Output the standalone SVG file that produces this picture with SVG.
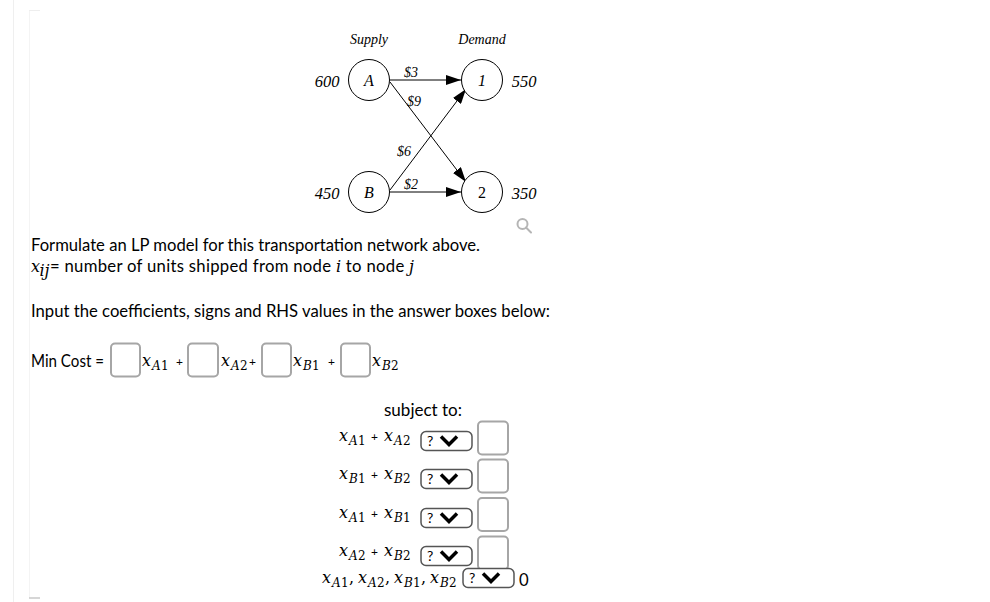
<svg xmlns="http://www.w3.org/2000/svg" width="990" height="602" viewBox="0 0 990 602">
<defs>
<marker id="arr" markerWidth="15" markerHeight="10" refX="15" refY="5" orient="auto" markerUnits="userSpaceOnUse">
<path d="M0,0 L15,5 L0,10 Z" fill="#000"/>
</marker>
<style>
.nd{fill:#fff;stroke:#000;stroke-width:1}
.tl{font-family:"Liberation Serif","Times New Roman",serif;font-style:italic;fill:#000}
.body{font-family:Lato,"Noto Sans",sans-serif;font-size:16.7px;fill:#000}
.m{font-family:"DejaVu Serif","Liberation Serif",serif;font-style:italic;font-size:16px;fill:#000}
.sb{font-size:12px}
.up{font-style:normal}
.pl{font-family:Lato,"Noto Sans",sans-serif;font-style:normal;font-size:12px;fill:#000}
.ab{fill:#fff;stroke:#a6a6a6;stroke-width:2}
.sel{fill:#fff;stroke:#555;stroke-width:1.5}
.q{font-family:Lato,"Noto Sans",sans-serif;font-size:14px;fill:#000}
.chev{fill:none;stroke:#000;stroke-width:3.5;stroke-linejoin:miter;stroke-linecap:butt}
.edge{stroke:#000;stroke-width:1;fill:none}
</style>
</defs>
<rect width="990" height="602" fill="#fff"/>
<g id="frame">
<line x1="13.5" y1="0" x2="13.5" y2="602" stroke="#efefef"/>
<line x1="29.5" y1="10" x2="29.5" y2="598" stroke="#f4f4f4"/>
<line x1="29" y1="10.5" x2="40" y2="10.5" stroke="#eeeeee"/>
<line x1="29" y1="598" x2="40" y2="598" stroke="#c8c8c8" stroke-width="1.5"/>
</g>
<g id="headers">
<text class="tl" x="369" y="44" font-size="14" text-anchor="middle">Supply</text>
<text class="tl" x="482" y="44" font-size="14" text-anchor="middle">Demand</text>
</g>
<g id="connectors">
<line class="edge" x1="390" y1="80" x2="461" y2="80" marker-end="url(#arr)"/>
<line class="edge" x1="390" y1="82" x2="466" y2="182" marker-end="url(#arr)"/>
<line class="edge" x1="390" y1="190" x2="466" y2="89" marker-end="url(#arr)"/>
<line class="edge" x1="390" y1="192" x2="461" y2="192" marker-end="url(#arr)"/>
<text class="tl" x="411" y="77" font-size="14" text-anchor="middle">$3</text>
<text class="tl" x="414" y="106" font-size="14" text-anchor="middle">$9</text>
<text class="tl" x="404" y="156" font-size="14" text-anchor="middle">$6</text>
<text class="tl" x="411" y="189" font-size="14" text-anchor="middle">$2</text>
</g>
<g id="node-A">
<circle class="nd" cx="369" cy="80" r="20.5"/>
<text class="tl" x="369" y="86" font-size="16" text-anchor="middle">A</text>
<text class="tl" x="327" y="87" font-size="16.5" text-anchor="middle">600</text>
</g>
<g id="node-B">
<circle class="nd" cx="369" cy="192" r="20.5"/>
<text class="tl" x="369" y="198" font-size="16" text-anchor="middle">B</text>
<text class="tl" x="327" y="199" font-size="16.5" text-anchor="middle">450</text>
</g>
<g id="node-1">
<circle class="nd" cx="482" cy="80" r="20.5"/>
<text class="tl" x="482" y="86" font-size="16" text-anchor="middle">1</text>
<text class="tl" x="524" y="87" font-size="16.5" text-anchor="middle">550</text>
</g>
<g id="node-2">
<circle class="nd" cx="482" cy="192" r="20.5"/>
<text class="tl up" x="482" y="198" font-size="16" text-anchor="middle">2</text>
<text class="tl" x="524" y="199" font-size="16.5" text-anchor="middle">350</text>
</g>
<g id="zoom-icon" fill="none" stroke="#b5b5b5" stroke-width="2">
<circle cx="522.5" cy="224" r="5"/>
<line x1="526" y1="227.5" x2="531" y2="232.5" stroke-linecap="round"/>
</g>
<g id="intro">
<text class="body" x="31" y="251" textLength="449" lengthAdjust="spacingAndGlyphs">Formulate an LP model for this transportation network above.</text>
<text class="m" x="31" y="272" font-size="15">x</text>
<text class="m" x="39.5" y="276" font-size="10">ij</text>
<text class="body" x="50" y="272" textLength="364" lengthAdjust="spacing">= number of units shipped from node <tspan class="m" font-size="15">i</tspan> to node <tspan class="m" font-size="15">j</tspan></text>
<text class="body" x="31" y="317" textLength="519" lengthAdjust="spacingAndGlyphs">Input the coefficients, signs and RHS values in the answer boxes below:</text>
</g>
<g id="objective">
<text class="body" x="31" y="367" textLength="73" lengthAdjust="spacingAndGlyphs">Min Cost =</text>
<rect class="ab" x="111" y="343.5" width="29" height="33" rx="4"/>
<text class="m" y="366"><tspan x="142">x</tspan><tspan class="sb" x="152" dy="4">A</tspan><tspan class="sb up" x="161">1</tspan></text>
<text class="pl" x="176" y="366">+</text>
<rect class="ab" x="188" y="343.5" width="30" height="33" rx="4"/>
<text class="m" y="366"><tspan x="221">x</tspan><tspan class="sb" x="231" dy="4">A</tspan><tspan class="sb up" x="240">2</tspan></text>
<text class="pl" x="249" y="366">+</text>
<rect class="ab" x="262" y="343.5" width="29" height="33" rx="4"/>
<text class="m" y="366"><tspan x="293">x</tspan><tspan class="sb" x="303" dy="4">B</tspan><tspan class="sb up" x="312">1</tspan></text>
<text class="pl" x="328" y="366">+</text>
<rect class="ab" x="341" y="343.5" width="29" height="33" rx="4"/>
<text class="m" y="366"><tspan x="372">x</tspan><tspan class="sb" x="382" dy="4">B</tspan><tspan class="sb up" x="391">2</tspan></text>
</g>
<g id="constraints">
<text class="body" x="384" y="416" textLength="78" lengthAdjust="spacingAndGlyphs">subject to:</text>
<g id="c1">
<text class="m" y="441"><tspan x="339">x</tspan><tspan class="sb" x="349" dy="4">A</tspan><tspan class="sb up" x="358">1</tspan></text>
<text class="pl" x="371" y="441">+</text>
<text class="m" y="441"><tspan x="384">x</tspan><tspan class="sb" x="394" dy="4">A</tspan><tspan class="sb up" x="403">2</tspan></text>
<rect class="sel" x="421" y="431.5" width="51" height="19" rx="5"/>
<text class="q" x="427" y="446">?</text>
<path class="chev" d="M441,436.5 L449,444.5 L457,436.5"/>
<rect class="ab" x="478" y="421.5" width="30" height="33" rx="4"/>
</g>
<g id="c2">
<text class="m" y="479"><tspan x="339">x</tspan><tspan class="sb" x="349" dy="4">B</tspan><tspan class="sb up" x="358">1</tspan></text>
<text class="pl" x="371" y="479">+</text>
<text class="m" y="479"><tspan x="384">x</tspan><tspan class="sb" x="394" dy="4">B</tspan><tspan class="sb up" x="403">2</tspan></text>
<rect class="sel" x="421" y="469.5" width="51" height="19" rx="5"/>
<text class="q" x="427" y="484">?</text>
<path class="chev" d="M441,474.5 L449,482.5 L457,474.5"/>
<rect class="ab" x="478" y="459.5" width="30" height="33" rx="4"/>
</g>
<g id="c3">
<text class="m" y="518"><tspan x="339">x</tspan><tspan class="sb" x="349" dy="4">A</tspan><tspan class="sb up" x="358">1</tspan></text>
<text class="pl" x="371" y="518">+</text>
<text class="m" y="518"><tspan x="384">x</tspan><tspan class="sb" x="394" dy="4">B</tspan><tspan class="sb up" x="403">1</tspan></text>
<rect class="sel" x="421" y="508.5" width="51" height="19" rx="5"/>
<text class="q" x="427" y="523">?</text>
<path class="chev" d="M441,513.5 L449,521.5 L457,513.5"/>
<rect class="ab" x="478" y="498" width="30" height="33" rx="4"/>
</g>
<g id="c4">
<text class="m" y="556"><tspan x="339">x</tspan><tspan class="sb" x="349" dy="4">A</tspan><tspan class="sb up" x="358">2</tspan></text>
<text class="pl" x="371" y="556">+</text>
<text class="m" y="556"><tspan x="384">x</tspan><tspan class="sb" x="394" dy="4">B</tspan><tspan class="sb up" x="403">2</tspan></text>
<rect class="sel" x="421" y="546.5" width="51" height="19" rx="5"/>
<text class="q" x="427" y="561">?</text>
<path class="chev" d="M441,551.5 L449,559.5 L457,551.5"/>
<rect class="ab" x="478" y="536.5" width="30" height="33" rx="4"/>
</g>
<g id="c5">
<text class="m" y="583"><tspan x="322">x</tspan><tspan class="sb" x="332" dy="4">A</tspan><tspan class="sb up" x="341">1</tspan><tspan class="up" x="349" dy="-4">,</tspan><tspan x="358">x</tspan><tspan class="sb" x="368" dy="4">A</tspan><tspan class="sb up" x="377">2</tspan><tspan class="up" x="385" dy="-4">,</tspan><tspan x="394">x</tspan><tspan class="sb" x="404" dy="4">B</tspan><tspan class="sb up" x="413">1</tspan><tspan class="up" x="421" dy="-4">,</tspan><tspan x="430">x</tspan><tspan class="sb" x="440" dy="4">B</tspan><tspan class="sb up" x="449">2</tspan></text>
<rect class="sel" x="463" y="568.5" width="51" height="19" rx="5"/>
<text class="q" x="469" y="583">?</text>
<path class="chev" d="M483,573.5 L491,581.5 L499,573.5"/>
<text class="body" x="519" y="586">0</text>
</g>
</g>
</svg>
